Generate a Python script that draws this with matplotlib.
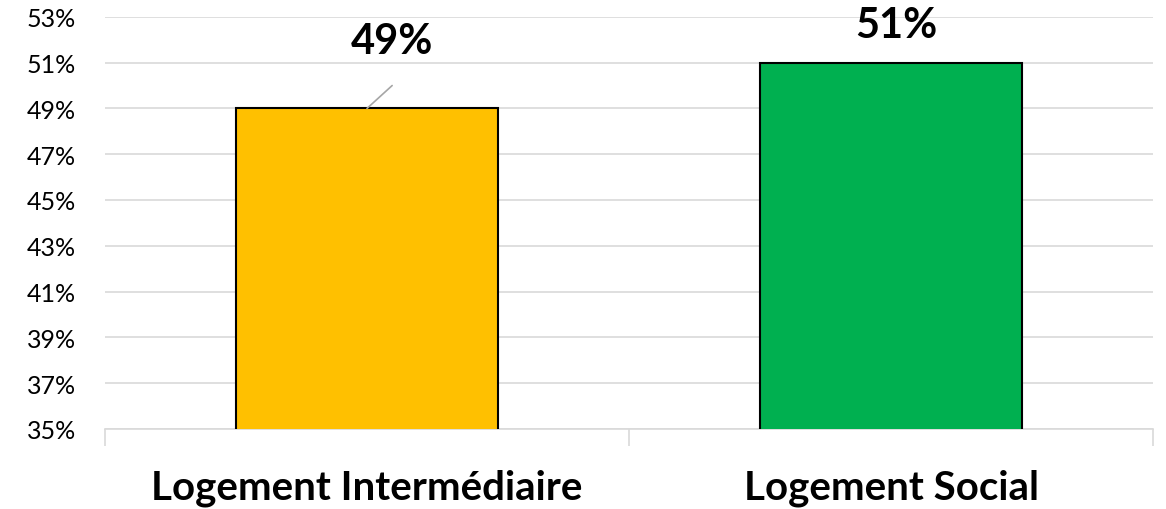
import matplotlib.pyplot as plt
from matplotlib.ticker import FuncFormatter

categories = ['Logement Intermédiaire', 'Logement Social']
valeurs = [49, 51]
couleurs = ['#FFC000', '#00B050']
ticks_y = [35, 37, 39, 41, 43, 45, 47, 49, 51, 53]

plt.rcParams['font.family'] = ['Lato', 'DejaVu Sans']

fig = plt.figure(figsize=(11.66, 5.10), dpi=100)
ax = fig.add_axes([0.090, 0.157, 0.899, 0.808])

x = list(range(len(categories)))
barres = ax.bar(x, valeurs, width=0.5, color=couleurs, edgecolor='black', linewidth=1.5, zorder=3)

ax.set_ylim(35, 53)
ax.set_xlim(-0.5, 1.5)
ax.set_yticks(ticks_y)
ax.yaxis.set_major_formatter(FuncFormatter(lambda v, p: f'{v:.0f}%'))
ax.grid(axis='y', color='#D9D9D9', linewidth=1.2, zorder=0)
ax.tick_params(axis='y', length=0, labelsize=18, pad=21)

# axe x : graduations entre les catégories
ax.set_xticks([-0.5, 0.5, 1.5])
ax.set_xticklabels(['', '', ''])
ax.tick_params(axis='x', length=12, color='#D9D9D9', width=1.2)
for i, cat in enumerate(categories):
    ax.annotate(cat, xy=(i, 35), xytext=(0, -42), textcoords='offset points',
                ha='center', va='center', fontsize=29, fontweight='bold')

for s in ['left', 'right', 'top']:
    ax.spines[s].set_visible(False)
ax.spines['bottom'].set_color('#D9D9D9')
ax.spines['bottom'].set_linewidth(1.2)

# étiquettes de données (la première est déplacée, avec ligne de rappel)
ax.annotate('', xy=(0, valeurs[0]), xytext=(0.048, valeurs[0] + 1.0),
            arrowprops=dict(arrowstyle='-', color='#A6A6A6', lw=1.2, shrinkA=0, shrinkB=0))
ax.text(0.048, valeurs[0] + 2.95, f'{valeurs[0]}%', ha='center', va='center',
        fontsize=30, fontweight='bold')
ax.text(1.01, valeurs[1] + 1.65, f'{valeurs[1]}%', ha='center', va='center',
        fontsize=30, fontweight='bold')

plt.savefig('out.png', dpi=100)
